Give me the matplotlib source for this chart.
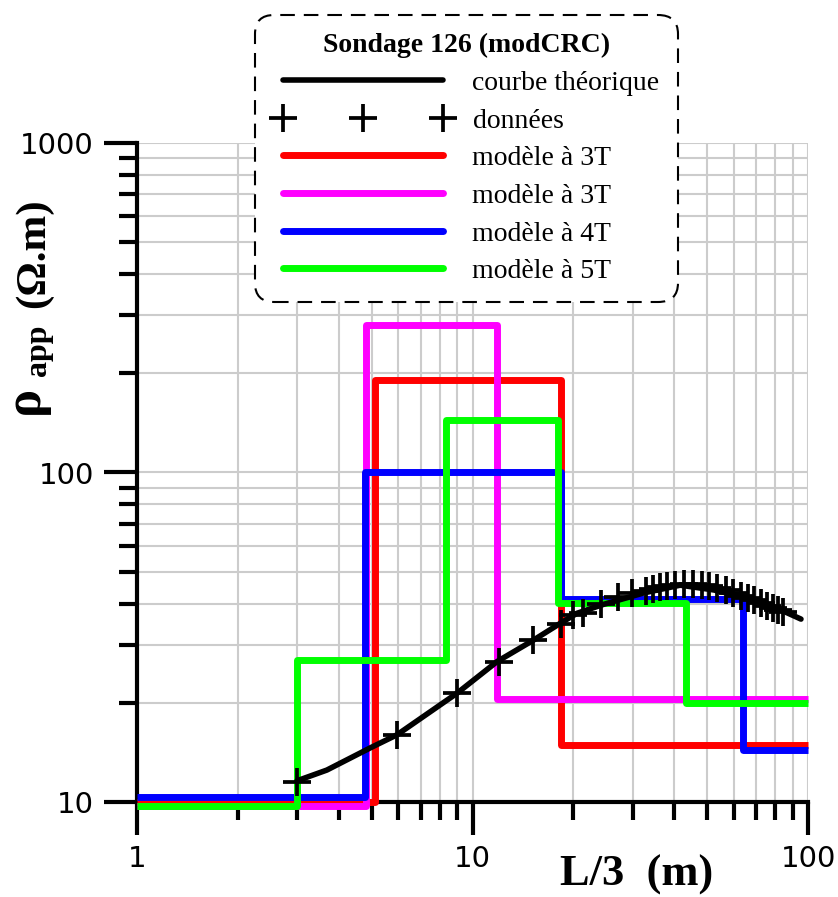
import matplotlib
matplotlib.use('Agg')
import matplotlib.pyplot as plt
from matplotlib.ticker import LogLocator, FuncFormatter, NullFormatter
from matplotlib.legend_handler import HandlerLine2D
from matplotlib.lines import Line2D
from matplotlib.font_manager import FontProperties

# ---------------- data ----------------
red_x = [1, 5.13, 18.3, 100]
red_y = [10.0, 191, 14.9]
mag_x = [1, 4.8, 11.85, 100]
mag_y = [9.7, 280, 20.6]
blue_x = [1, 4.78, 18.4, 64, 100]
blue_y = [10.35, 100, 41.2, 14.4]
green_x = [1, 3.0, 8.31, 18.0, 43.2, 100]
green_y = [9.7, 27, 144, 40.1, 20.0]

curve_x = [3.0, 3.68, 4.96, 5.96, 9.0, 11.85, 15.2, 18.3, 20.5, 24.6, 32.4,
           41.6, 52.4, 66.2, 79.2, 95.3]
curve_y = [11.6, 12.5, 14.6, 16.0, 21.4, 26.7, 31.0, 34.9, 37.4, 39.8, 43.1,
           45.5, 44.0, 41.6, 39.1, 35.9]

data_x = [3.0, 5.95, 9.0, 12.0, 15.1, 18.3, 20.0, 21.3, 24.2, 27.2, 29.9, 32.8,
          34.4, 36.1, 38.1, 40.1, 42.7, 45.3, 48.2, 50.7, 53.7, 56.9, 59.6,
          63.1, 66.1, 69.2, 72.4, 75.4, 78.5, 81.2, 84.0]
data_y = [11.5, 16.0, 21.4, 26.6, 31.0, 34.8, 37.0, 37.5, 40.0, 41.8, 43.0,
          43.8, 44.3, 44.8, 45.3, 45.6, 45.9, 46.0, 45.7, 45.2, 44.6, 43.9,
          43.2, 42.3, 41.6, 40.9, 40.1, 39.4, 38.8, 38.2, 37.6]

labels = ['courbe théorique', 'données', 'modèle à 3T', 'modèle à 3T',
          'modèle à 4T', 'modèle à 5T']
legend_title = 'Sondage 126 (modCRC)'
xticks = [1, 10, 100]
yticks = [10, 100, 1000]

# ---------------- figure ----------------
W, H = 838, 897
fig = plt.figure(figsize=(W / 100, H / 100), dpi=100)
ax = fig.add_axes([137 / W, 1 - 802 / H, (808 - 137) / W, (802 - 143) / H])
ax.set_xscale('log')
ax.set_yscale('log')
ax.set_xlim(1, 100)
ax.set_ylim(10, 1000)

ax.grid(True, which='both', color='#cccccc', lw=1.5)
ax.set_axisbelow(True)
for s in ['top', 'right']:
    ax.spines[s].set_visible(False)
for s in ['left', 'bottom']:
    ax.spines[s].set_linewidth(3)

ax.set_xticks(xticks)
ax.set_yticks(yticks)
fmt = FuncFormatter(lambda v, p: f'{v:g}')
ax.xaxis.set_major_formatter(fmt)
ax.yaxis.set_major_formatter(fmt)
ax.xaxis.set_minor_locator(LogLocator(base=10, subs=range(2, 10)))
ax.yaxis.set_minor_locator(LogLocator(base=10, subs=range(2, 10)))
ax.xaxis.set_minor_formatter(NullFormatter())
ax.yaxis.set_minor_formatter(NullFormatter())
ax.tick_params(which='major', length=24, width=3, direction='out',
               labelsize=21)
ax.tick_params(which='minor', length=13, width=3, direction='out')
ax.tick_params(axis='x', which='major', pad=7)
ax.tick_params(axis='y', which='major', pad=7)
for lab in ax.get_xticklabels() + ax.get_yticklabels():
    lab.set_family('DejaVu Sans')

colors = ['#ff0000', '#ff00ff', '#0000ff', '#00ff00']
series = [(red_x, red_y), (mag_x, mag_y), (blue_x, blue_y), (green_x, green_y)]
for (xs, ys), c in zip(series, colors):
    ax.stairs(ys, xs, baseline=None, color=c, lw=5, clip_on=False,
              joinstyle='round', zorder=3)

curve_line, = ax.plot(curve_x, curve_y, color='k', lw=4, zorder=5,
                      solid_joinstyle='round', solid_capstyle='round')
data_line, = ax.plot(data_x, data_y, ls='none', marker='+', ms=20, mew=2.7,
                     color='k', zorder=6)

proxies = [Line2D([], [], color=c, lw=5, solid_capstyle='round') for c in colors]
handles = [curve_line, data_line] + proxies

leg = fig.legend(handles, labels, loc='upper left',
                 bbox_to_anchor=(255 / W, 1 - 15 / H), borderaxespad=0,
                 title=legend_title,
                 prop=FontProperties(family='Liberation Serif', size=20),
                 title_fontproperties=FontProperties(family='Liberation Serif',
                                                     size=20, weight='bold'),
                 handlelength=6.13, handletextpad=1.05, borderpad=0.65,
                 labelspacing=0.44, frameon=True, fancybox=True, framealpha=1,
                 edgecolor='k',
                 handler_map={Line2D: HandlerLine2D(numpoints=3, marker_pad=0,
                                                    xpad=0.37)})
frame = leg.get_frame()
frame.set_linestyle((0, (7, 4.3)))
frame.set_linewidth(1.5)
frame.set_boxstyle('round', pad=0, rounding_size=0.7)

# axis labels
fig.text(637 / W, 1 - 886 / H, 'L/3  (m)', family='Liberation Serif',
         weight='bold', size=32, ha='center', va='baseline')

fig.text(38 / W, 1 - 414 / H, 'ρ', family='Liberation Serif', weight='bold',
         size=38, rotation=90, rotation_mode='anchor', ha='left', va='baseline')
fig.text(46 / W, 1 - 376 / H, 'app', family='Liberation Serif', weight='bold',
         size=23, rotation=90, rotation_mode='anchor', ha='left', va='baseline')
fig.text(44 / W, 1 - 308 / H, '(Ω.m)', family='Liberation Serif',
         weight='bold', size=31, rotation=90, rotation_mode='anchor',
         ha='left', va='baseline')

fig.savefig('out.png', dpi=100)
